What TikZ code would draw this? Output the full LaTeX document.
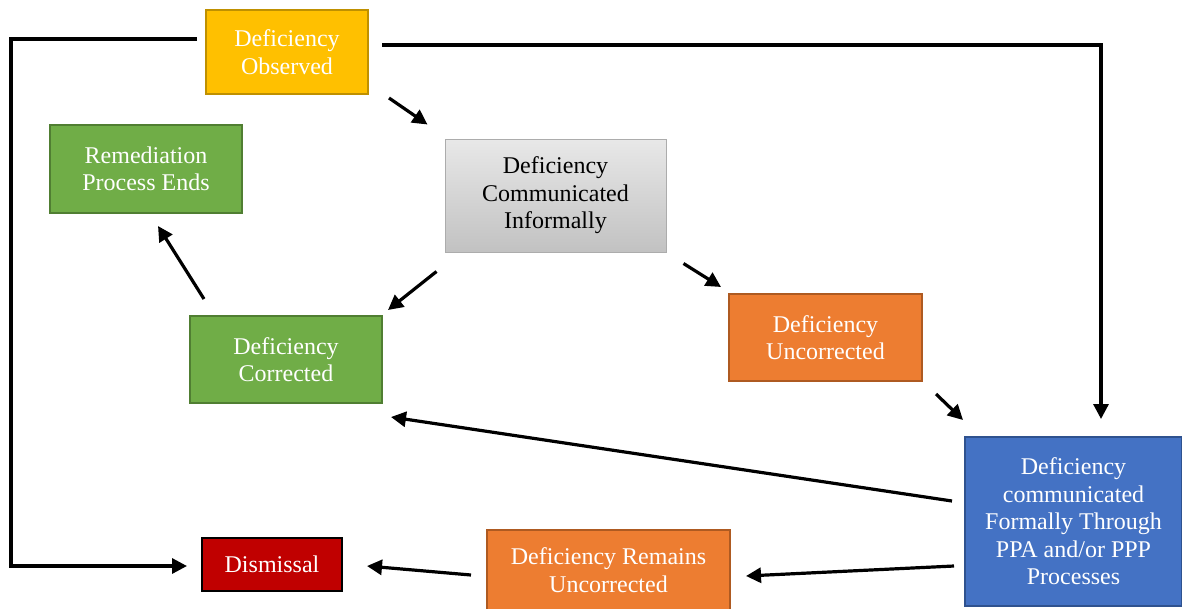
\documentclass[tikz,border=0pt]{standalone}
\usepackage{fontspec}
\setmainfont{Liberation Serif}
\usetikzlibrary{arrows.meta}
\definecolor{gold}{HTML}{FFC000}
\definecolor{goldline}{HTML}{BF9000}
\definecolor{leaf}{HTML}{70AD47}
\definecolor{leafline}{HTML}{507E32}
\definecolor{amber}{HTML}{ED7D31}
\definecolor{amberline}{HTML}{AE5A21}
\definecolor{royal}{HTML}{4472C4}
\definecolor{royalline}{HTML}{2F528F}
\definecolor{crimson}{HTML}{C00000}
\begin{document}
\begin{tikzpicture}[x=1pt, y=-1pt,
    box/.style={draw, line width=2pt, inner sep=0pt, align=center, text=white,
      font=\fontsize{24}{27.5}\selectfont},
    arr/.style={line width=3.2pt, -{Triangle[length=15pt,width=15pt]}}]
    \useasboundingbox (0,0) rectangle (1182,608);
    \node[box, fill=gold, draw=goldline, minimum width=162, minimum height=84] (obs) at (287,52) {Deficiency\\Observed};
    \node[box, fill=leaf, draw=leafline, minimum width=192, minimum height=88] (rem) at (146,169) {Remediation\\Process Ends};
    \node[box, top color=gray!18, bottom color=gray!48, draw=gray!65, line width=1pt, text=black,
      minimum width=221, minimum height=113] (inf) at (555.5,195.5) {Deficiency\\Communicated\\Informally};
    \node[box, fill=leaf, draw=leafline, minimum width=192, minimum height=87] (cor) at (286,359.5) {Deficiency\\Corrected};
    \node[box, fill=amber, draw=amberline, minimum width=193, minimum height=87] (unc) at (825.5,337.5) {Deficiency\\Uncorrected};
    \node[box, fill=royal, draw=royalline, minimum width=217, minimum height=169] (frm) at (1073.5,521.5) {Deficiency\\communicated\\Formally Through\\PPA and/or PPP\\Processes};
    \node[box, fill=amber, draw=amberline, minimum width=243, minimum height=80] (rmu) at (608.5,570) {Deficiency Remains\\Uncorrected};
    \node[box, fill=crimson, draw=black, minimum width=140, minimum height=53] (dis) at (272,564.5) {Dismissal};
    \coordinate (lft) at (11,0);
    \draw[arr] ([shift={(20,3)}]obs.south east) -- ([shift={(-17,-14)}]inf.north west);
    \draw[arr] ([shift={(-8,19)}]inf.south west) -- ([shift={(5,-5)}]cor.north east);
    \draw[arr] ([shift={(17,11)}]inf.south east) -- ([shift={(-7,-6)}]unc.north west);
    \draw[arr] ([shift={(15,-16)}]cor.north west) -- ([shift={(12,12)}]rem.south);
    \draw[arr] ([shift={(13,12)}]unc.south east) -- ([shift={(-1,-16)}]frm.north west);
    \draw[arr] ([shift={(-12,-20.5)}]frm.west) -- ([shift={(8,13)}]cor.south east);
    \draw[arr] ([shift={(-10,44.5)}]frm.west) -- ([shift={(15,6)}]rmu.east);
    \draw[arr] ([shift={(-15,5)}]rmu.west) -- ([shift={(24,1.5)}]dis.east);
    \draw[arr] ([shift={(-8,-13)}]obs.west) -| ([shift={(0,1.5)}]lft |- dis.west) -- ([shift={(-14,1.5)}]dis.west);
    \draw[arr] ([shift={(13,-7)}]obs.east) -| ([shift={(27.5,-17)}]frm.north);
\end{tikzpicture}
\end{document}
